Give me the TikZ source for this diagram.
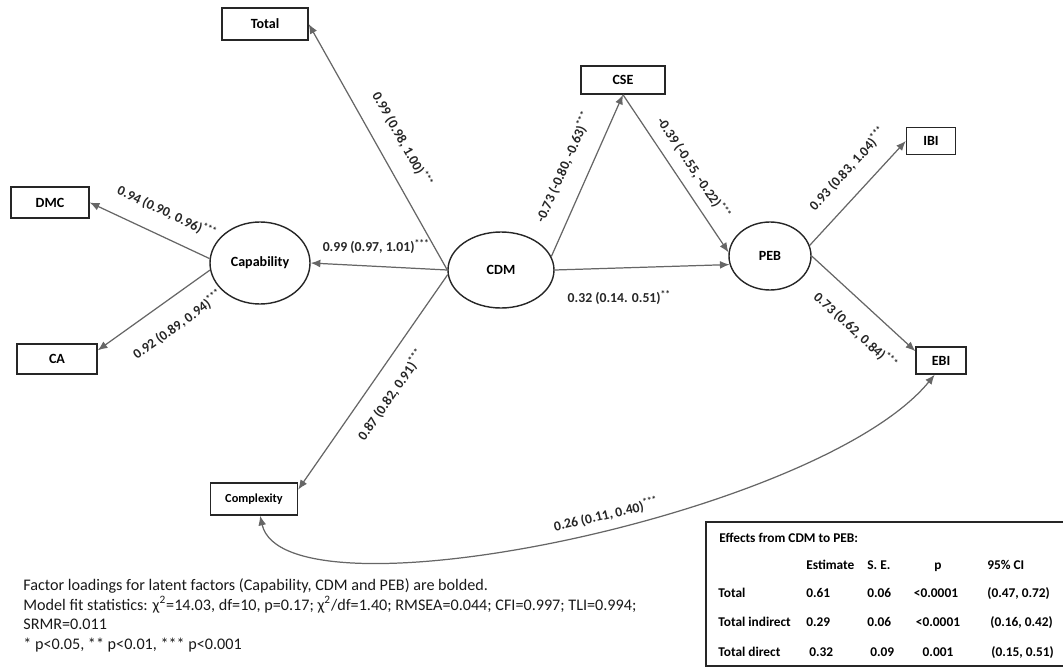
\documentclass[tikz,border=0pt]{standalone}
\usepackage{fontspec}
\setmainfont{Carlito}
\usetikzlibrary{shapes.geometric,arrows.meta}

\begin{document}
\begin{tikzpicture}
  \tikzstyle{latent} = [ellipse, draw=black!85, line width=0.8pt, inner sep=0pt, font=\fontsize{8}{10}\selectfont\bfseries]
  \tikzstyle{indicator} = [rectangle, draw=black!85, line width=0.8pt, inner sep=0pt, font=\fontsize{8}{10}\selectfont\bfseries]
  \tikzstyle{effect} = [draw=black!60, line width=0.7pt, -{Latex[length=5.5pt,width=4.5pt]}]
  \tikzstyle{corr} = [draw=black!60, line width=0.7pt, {Latex[length=5.5pt,width=4.5pt]}-{Latex[length=5.5pt,width=4.5pt]}]
  \tikzstyle{coef} = [font=\fontsize{7.8}{9}\selectfont\bfseries, text=black!85]
  \tikzstyle{cell} = [anchor=base west, inner sep=0pt, font=\fontsize{7.6}{9}\selectfont\bfseries]
  \tikzstyle{pcell} = [anchor=base, inner sep=0pt, font=\fontsize{7.6}{9}\selectfont\bfseries]

  \useasboundingbox (0,0) rectangle (21.26,-13.36);

  \node[latent, minimum width=2cm, minimum height=1.64cm] (cap) at (5.20,-5.26) {Capability};
  \node[latent, minimum width=2.12cm, minimum height=1.52cm] (cdm) at (10.02,-5.40) {CDM};
  \node[latent, minimum width=1.64cm, minimum height=1.36cm] (peb) at (15.40,-5.12) {PEB};

  \node[indicator, minimum width=1.72cm, minimum height=0.64cm] (total) at (5.30,-0.48) {Total};
  \node[indicator, minimum width=1.56cm, minimum height=0.62cm] (dmc) at (1.00,-4.05) {DMC};
  \node[indicator, minimum width=1.6cm, minimum height=0.6cm] (ca) at (1.14,-7.18) {CA};
  \node[indicator, minimum width=1.74cm, minimum height=0.64cm, font=\fontsize{7}{9}\selectfont\bfseries] (cx) at (5.08,-9.98) {Complexity};
  \node[indicator, minimum width=1.68cm, minimum height=0.56cm] (cse) at (12.46,-1.60) {CSE};
  \node[indicator, minimum width=0.98cm, minimum height=0.54cm] (ibi) at (18.62,-2.82) {IBI};
  \node[indicator, minimum width=1cm, minimum height=0.54cm] (ebi) at (18.82,-7.21) {EBI};

  \draw[effect] (cdm.west) -- node[coef, sloped, pos=0.48, above=6.5pt] {0.99 (0.98, 1.00)\textsuperscript{***}} (total.east);
  \draw[effect] (cdm.west) -- node[coef, pos=0.52, above=3.5pt] {0.99 (0.97, 1.01)\textsuperscript{***}} (cap.east);
  \draw[effect] (cap.175) -- node[coef, sloped, pos=0.44, above=6pt] {0.94 (0.90, 0.96)\textsuperscript{***}} (dmc.east);
  \draw[effect] (cap.-172) -- node[coef, sloped, pos=0.42, below=7pt] {0.92 (0.89, 0.94)\textsuperscript{***}} (ca.12);
  \draw[effect] (cdm.-175) -- node[coef, sloped, pos=0.5, below=5pt] {0.87 (0.82, 0.91)\textsuperscript{***}} (cx.12);
  \draw[effect] (cdm.15) -- node[coef, sloped, pos=0.49, above=6.5pt] {-0.73 (-0.80, -0.63)\textsuperscript{***}} (cse.south);
  \draw[effect] (cse.south) -- node[coef, sloped, pos=0.53, above=2.5pt] {-0.39 (-0.55, -0.22)\textsuperscript{***}} (peb.175);
  \draw[effect] (cdm.east) -- node[coef, pos=0.37, below=9pt] {0.32 (0.14. 0.51)\textsuperscript{**}} (peb.-168);
  \draw[effect] (peb.15) -- node[coef, sloped, pos=0.58, above=6pt] {0.93 (0.83, 1.04)\textsuperscript{***}} (ibi.west);
  \draw[effect] (peb.east) -- node[coef, sloped, pos=0.59, below=6.8pt] {0.73 (0.62, 0.84)\textsuperscript{***}} (ebi.160);
  \draw[corr] (cx.-70) .. controls (5.70,-12.50) and (16.40,-10.30) .. node[coef, pos=0.55, rotate=13, above=0.5pt] {0.26 (0.11, 0.40)\textsuperscript{***}} (ebi.-114);

  % notes under the model
  \node[anchor=north west, inner sep=0pt, align=left, text=black!90, font=\fontsize{9.2}{11.3}\selectfont] (notes) at (0.46,-11.56) {Factor loadings for latent factors (Capability, CDM and PEB) are bolded.\\
    Model fit statistics: χ\textsuperscript{2}=14.03, df=10, p=0.17; χ\textsuperscript{2}/df=1.40; RMSEA=0.044; CFI=0.997; TLI=0.994;\\
    SRMR=0.011\\
    * p<0.05, ** p<0.01, *** p<0.001};

  % effects table
  \draw[line width=0.8pt, draw=black!85] (14.12,-10.44) rectangle (21.6,-13.32);
  \node[cell] (eff) at (14.38,-10.84) {Effects from CDM to PEB:};
  \node[cell] (hest) at (16.12,-11.38) {Estimate};
  \node[cell] (hse) at (17.34,-11.38) {S. E.};
  \node[pcell] (hp) at (18.76,-11.38) {p};
  \node[cell] (hci) at (19.74,-11.38) {95\% CI};
  \node[cell] (tlab) at (14.36,-11.94) {Total};
  \node[cell] (test) at (16.12,-11.94) {0.61};
  \node[cell] (tse) at (17.34,-11.94) {0.06};
  \node[pcell] (tp) at (18.72,-11.94) {<0.0001};
  \node[cell] (tci) at (19.74,-11.94) {(0.47, 0.72)};
  \node[cell] (ilab) at (14.36,-12.52) {Total indirect};
  \node[cell] (iest) at (16.12,-12.52) {0.29};
  \node[cell] (ise) at (17.34,-12.52) {0.06};
  \node[pcell] (ip) at (18.76,-12.52) {<0.0001};
  \node[cell] (ici) at (19.80,-12.52) {(0.16, 0.42)};
  \node[cell] (dlab) at (14.36,-13.12) {Total direct};
  \node[cell] (dest) at (16.18,-13.12) {0.32};
  \node[cell] (dse) at (17.40,-13.12) {0.09};
  \node[pcell] (dp) at (18.76,-13.12) {0.001};
  \node[cell] (dci) at (19.82,-13.12) {(0.15, 0.51)};
\end{tikzpicture}
\end{document}
